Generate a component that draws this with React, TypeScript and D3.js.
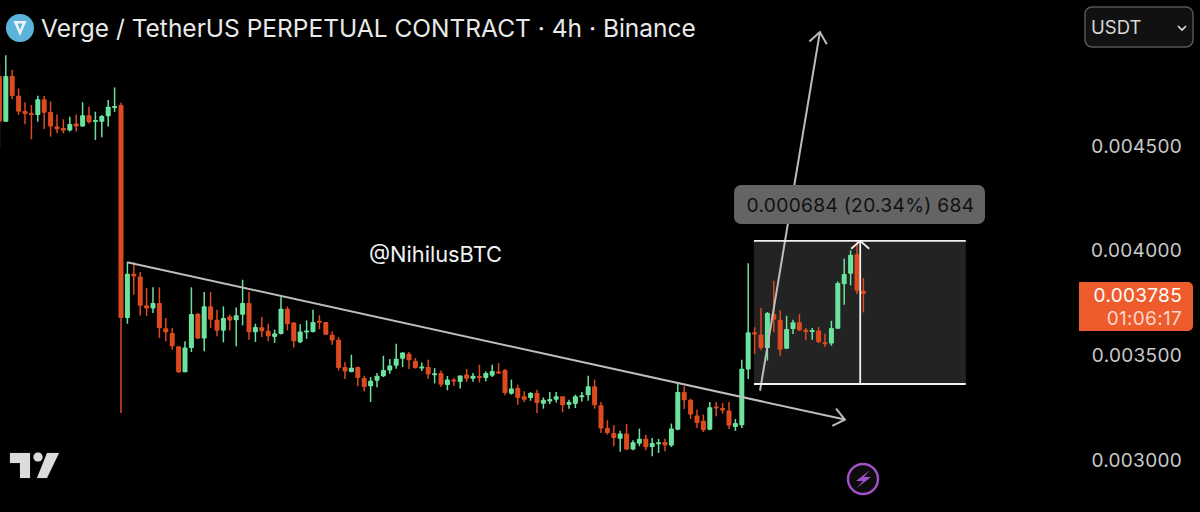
import React from "react";
import * as d3 from "d3";

// prices in millionths of USDT, one entry per 4h bar
const opens = [4834,4616,4834,4740,4667,4658,4648,4723,4663,4593,4586,4574,4608,4593,4647,4618,4616,4642,4683,4696,
3678,3890,3877,3739,3724,3750,3629,3607,3543,3419,3535,3699,3580,3734,3670,3618,3686,3667,3694,3750,
3610,3634,3618,3588,3602,3722,3657,3563,3614,3611,3665,3659,3598,3574,3444,3420,3444,3392,3352,3379,
3400,3428,3450,3484,3508,3474,3441,3444,3408,3416,3358,3384,3373,3408,3388,3401,3392,3403,3423,3430,
3317,3344,3304,3296,3320,3269,3280,3288,3304,3264,3268,3301,3309,3352,3261,3153,3129,3101,3126,3050,
3078,3102,3062,3081,3086,3069,3145,3325,3288,3213,3188,3145,3256,3248,3236,3158,3166,3432,3610,3599,
3535,3697,3670,3532,3626,3658,3622,3615,3619,3562,3556,3627,3840,3890,3983,3809];
const closes = [4616,4834,4739,4664,4653,4650,4723,4659,4593,4580,4574,4605,4593,4647,4613,4624,4643,4688,4691,3678,
3890,3877,3737,3724,3750,3629,3610,3543,3419,3537,3697,3580,3734,3670,3618,3678,3666,3691,3750,3610,
3635,3615,3591,3604,3723,3649,3567,3614,3619,3659,3659,3598,3571,3439,3423,3441,3392,3349,3379,3403,
3430,3452,3484,3514,3476,3439,3447,3409,3414,3360,3384,3376,3404,3388,3403,3395,3416,3425,3419,3320,
3342,3296,3288,3320,3272,3288,3291,3304,3261,3277,3304,3309,3352,3261,3150,3129,3105,3126,3050,3085,
3102,3061,3081,3085,3069,3150,3325,3285,3217,3177,3142,3252,3248,3236,3164,3177,3436,3610,3599,3535,
3702,3670,3527,3626,3658,3619,3611,3621,3562,3556,3630,3845,3888,3980,3809,3793];
const highs = [4895,4934,4863,4775,4709,4696,4740,4739,4713,4651,4628,4640,4651,4709,4688,4664,4648,4720,4780,4707,
3945,3945,3898,3821,3825,3825,3678,3629,3543,3567,3825,3702,3802,3802,3718,3734,3694,3729,3861,3802,
3651,3683,3651,3623,3782,3733,3659,3649,3667,3718,3691,3659,3614,3587,3468,3503,3447,3403,3396,3416,
3498,3482,3555,3514,3516,3487,3466,3479,3439,3427,3401,3392,3404,3435,3416,3455,3423,3455,3463,3435,
3384,3360,3328,3325,3336,3299,3325,3325,3304,3288,3312,3325,3403,3384,3277,3190,3166,3140,3172,3094,
3150,3121,3105,3101,3102,3174,3371,3352,3293,3240,3217,3277,3277,3272,3277,3196,3479,3940,3634,3726,
3707,3856,3715,3689,3670,3697,3630,3630,3635,3603,3665,3853,3961,4001,4047,3869];
const lows = [4494,4616,4723,4648,4604,4532,4616,4581,4545,4561,4561,4569,4569,4593,4608,4529,4542,4593,4663,3225,
3651,3790,3689,3689,3702,3583,3567,3527,3416,3419,3516,3578,3519,3631,3591,3562,3619,3543,3643,3575,
3564,3588,3567,3559,3599,3619,3538,3559,3579,3609,3625,3598,3551,3427,3387,3419,3352,3328,3277,3347,
3396,3412,3436,3444,3435,3436,3425,3388,3366,3349,3333,3355,3341,3373,3374,3371,3376,3396,3411,3309,
3312,3264,3277,3283,3225,3245,3268,3275,3228,3245,3248,3280,3283,3245,3129,3121,3066,3039,3047,3047,
3066,3047,3018,3034,3042,3062,3142,3244,3196,3153,3134,3142,3209,3221,3148,3139,3153,3387,3506,3524,
3475,3610,3498,3530,3602,3618,3572,3575,3559,3540,3546,3627,3742,3834,3793,3705];

const tickValues = [4500, 4000, 3500, 3000];
const titleText = "Verge / TetherUS PERPETUAL CONTRACT · 4h · Binance";
const rangeLabel = "0.000684 (20.34%) 684";
const watermark = "@NihilusBTC";
const lastPrice = 3785;
const countdown = "01:06:17";
const quoteUnit = "USDT";

// drawings, as [bar index, price]
const trendLine: [number, number][] = [[19.95, 3945], [132.1, 3193]];
const upArrow: [number, number][] = [[118.85, 3331], [128.2, 5044]];
const rangeBox = { x0: 117.9, x1: 151, low: 3363, high: 4047, mid: 134.5 };

const barCount = opens.length;
const x = d3.scaleLinear().domain([0, barCount - 1]).range([-0.6, 863.4]);
const y = d3.scaleLinear().domain([3000, 4500]).range([460, 146]);

const UP = "#6be39f";
const DOWN = "#dd4a1f";
const FONT = "Inter, 'Noto Sans', sans-serif";

function head(tip: [number, number], from: [number, number], len: number, spread = 0.68) {
  const a = Math.atan2(from[1] - tip[1], from[0] - tip[0]);
  const p = (s: number) => [tip[0] + len * Math.cos(a + s), tip[1] + len * Math.sin(a + s)] as [number, number];
  return d3.line()([p(spread), tip, p(-spread)]) as string;
}

function Arrow({ pts, color }: { pts: [number, number][]; color: string }) {
  const a: [number, number] = [x(pts[0][0]), y(pts[0][1])];
  const b: [number, number] = [x(pts[1][0]), y(pts[1][1])];
  return (
    <g fill="none" stroke={color} strokeWidth={2}>
      <path d={d3.line()([a, b]) as string} />
      <path d={head(b, a, 14)} />
    </g>
  );
}

export default function App() {
  const bw = 5;
  const bx0 = x(rangeBox.x0), bx1 = x(rangeBox.x1), by0 = y(rangeBox.high), by1 = y(rangeBox.low), mx = x(rangeBox.mid);
  const ly = y(lastPrice);
  return (
    <svg width={1200} height={512} style={{ position: "absolute", left: 0, top: 0, display: "block", background: "#000" }} fontFamily={FONT}>
      <rect x={bx0} y={by0} width={bx1 - bx0} height={by1 - by0} fill="#232323" />
      {opens.map((o, i) => {
        const c = closes[i];
        const col = c >= o ? UP : DOWN;
        const t = y(Math.max(o, c)), b = y(Math.min(o, c));
        return (
          <g key={i}>
            <line x1={x(i)} x2={x(i)} y1={y(highs[i])} y2={y(lows[i])} stroke={col} strokeWidth={1.5} />
            <rect x={x(i) - bw / 2} y={t} width={bw} height={Math.max(b - t, 2)} fill={col} rx={0.8} />
          </g>
        );
      })}
      <Arrow pts={trendLine} color="#bdbdbd" />
      <Arrow pts={upArrow} color="#bdbdbd" />
      <g stroke="#f2f2f2" strokeWidth={1.8} fill="none">
        <line x1={bx0} x2={bx1} y1={by0} y2={by0} />
        <line x1={bx0} x2={bx1} y1={by1} y2={by1} />
        <line x1={mx} x2={mx} y1={by1} y2={by0} />
        <path d={head([mx, by0], [mx, by1], 12, 0.85)} />
      </g>
      <rect x={734} y={185} width={251} height={39} rx={7} fill="#646464" />
      <text x={860.5} y={212} textAnchor="middle" fontSize={19.2} fill="#111" letterSpacing={0.3}>{rangeLabel}</text>

      <text x={435.5} y={262} textAnchor="middle" fontSize={21.8} fill="#f2f2f2">{watermark}</text>

      {tickValues.map((t) => (
        <text key={t} x={1182} y={y(t) + 6.5} textAnchor="end" fontSize={19} fill="#c9c9c9" letterSpacing={0.3}>
          {(t / 1e6).toFixed(6)}
        </text>
      ))}

      <path d="M1079 282H1188a5 5 0 0 1 5 5V326a5 5 0 0 1 -5 5H1079Z" fill="#ee5b2c" />
      <text x={1182} y={ly + 6} textAnchor="end" fontSize={19} fill="#fff" letterSpacing={0.3}>{(lastPrice / 1e6).toFixed(6)}</text>
      <text x={1182} y={ly + 29} textAnchor="end" fontSize={19} fill="#fbd6c8" letterSpacing={0.3}>{countdown}</text>

      <circle cx={20} cy={28} r={14} fill="#5cb4dc" />
      <path d="M13.5 21H26.5L20 36Z M17.5 23.5L20 30L22.5 23.5Z" fill="#eaf6fb" fillRule="evenodd" />
      <text x={41} y={36.5} fontSize={24.5} fill="#e9e9e9">{titleText}</text>

      <rect x={1085} y={7} width={108} height={40} rx={7} fill="#111" stroke="#565656" strokeWidth={1.5} />
      <text x={1091} y={34} fontSize={18.5} fill="#d8d8d8">{quoteUnit}</text>
      <path d="M1178 26L1182 30L1186 26" fill="none" stroke="#e0e0e0" strokeWidth={1.6} />

      <g fill="#dcdcdc" stroke="#1c1c1c" strokeWidth={1} paintOrder="stroke">
        <path d="M10 453H30V478H20V463H10Z" />
        <circle cx={38} cy={457} r={4.6} />
        <path d="M47 453H59L47 478H37Z" />
      </g>

      <circle cx={863} cy={479} r={15} fill="#0c0c0c" stroke="#a24fc9" strokeWidth={2.4} />
      <path d="M870 470L856 481H863L857 488L871 477H864Z" fill="#a24fc9" />
    </svg>
  );
}
